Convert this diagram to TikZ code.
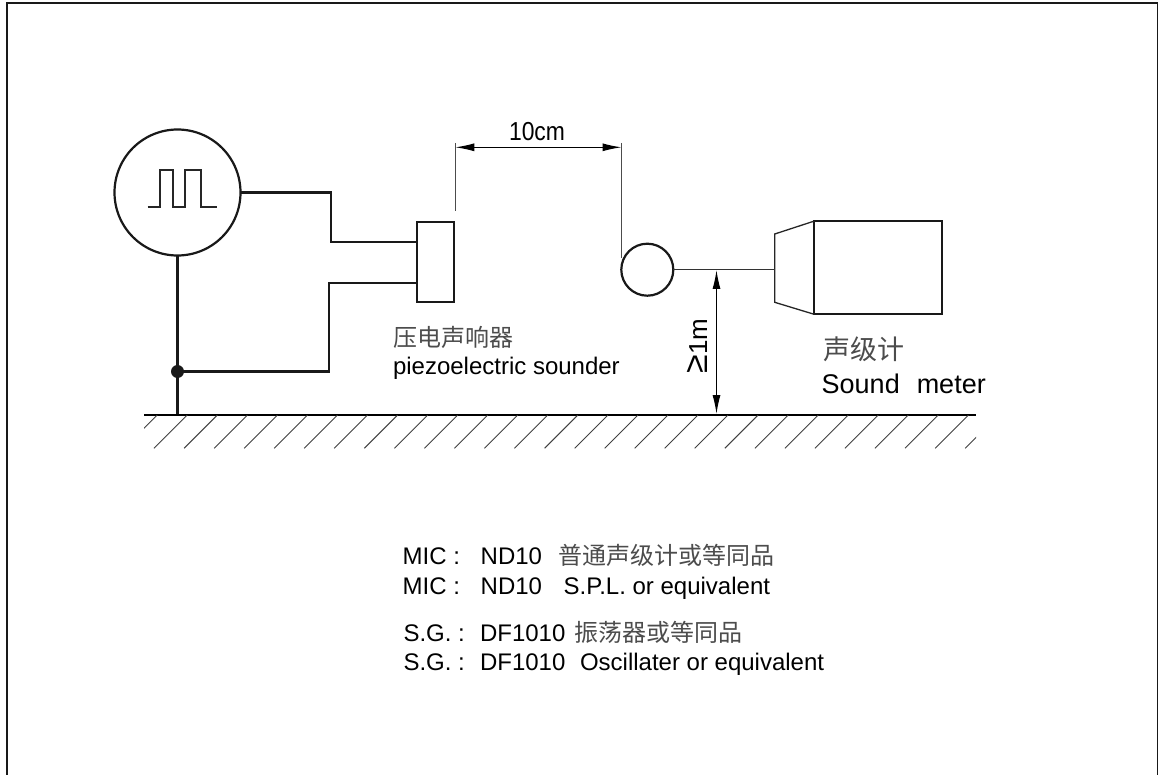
\documentclass[tikz,border=0pt]{standalone}
\usepackage{fontspec}
\usepackage{graphicx}
\setmainfont{Liberation Sans}
\newfontfamily\cjk{Noto Sans CJK SC}
\usetikzlibrary{arrows.meta}
\definecolor{cjkgray}{gray}{0.3}
\newcommand{\zh}[1]{{\cjk\color{cjkgray}#1}}
\tikzset{
  x=1pt,y=-1pt,
  wire/.style={line width=2.2pt,black!90},
  thinwire/.style={line width=1.2pt,black!80},
  shapebox/.style={draw,line width=2.2pt,black!90,inner sep=0pt,outer sep=0pt},
  dimline/.style={line width=1.2pt,black,{Latex[length=19pt,width=8pt]}-{Latex[length=19pt,width=8pt]},shorten <=0pt,shorten >=0pt},
  ext/.style={line width=1.1pt,black!70},
  hatch/.style={line width=0.9pt,black!75},
  lbl/.style={anchor=base west,inner sep=0pt,outer sep=0pt,font=\fontsize{24}{28}\selectfont},
}
\begin{document}
\begin{tikzpicture}
\useasboundingbox (0,0) rectangle (1158,775);
% frame
\draw[line width=2pt,black!90] (6.5,775) -- (6.5,3.5) -- (1158,3.5) -- (1158,775);
% generator
\node[shapebox,circle,minimum size=126pt] (sg) at (177.5,192.5) {};
\draw[line width=1.7pt,black!85] (147.7,207.3) -- (160,207.3) -- (160,170.3) -- (172.7,170.3) -- (172.7,207.3) -- (185,207.3) -- (185,170.3) -- (201,170.3) -- (201,207.3) -- (217,207.3);
% sounder
\node[shapebox,rectangle,minimum width=37pt,minimum height=80.5pt] (sounder) at (435.5,262) {};
\coordinate (s1) at (417,242);
\coordinate (s2) at (417,283);
\coordinate (b1) at (330.7,192.5);
\coordinate (b2) at (330.7,242);
\coordinate (b3) at (328.7,283);
\coordinate (b4) at (328.7,371.5);
\node[circle,fill=black!90,inner sep=0pt,minimum size=13pt] (dot) at (177.5,371.5) {};
\coordinate (g0) at (177.5,414.7);
\coordinate (gl) at (144,414.7);
\coordinate (gr) at (976,414.7);
\draw[wire] (sg.east) -- (b1) -- (b2) -- (s1);
\draw[wire] (s2) -- (b3) -- (b4) -- (dot);
\draw[wire] (sg.south) -- (g0);
% ground
\draw[line width=2pt,black] (gl) -- (gr);
\begin{scope}
\clip (144,415.5) rectangle (976,449);
\foreach \k in {0,...,28}{
  \draw[hatch] ({157.3+30.04*\k},415) -- ({157.3+30.04*\k-33.3},448.3);
}
\end{scope}
% microphone and meter
\node[shapebox,circle,minimum size=52pt] (mic) at (647.3,269.7) {};
\node[shapebox,rectangle,minimum width=127.7pt,minimum height=93.3pt] (meter) at (878.2,267.7) {};
\draw[line width=1.3pt,black!85] (meter.north west) -- (774.7,234) -- (774.7,302.3) -- (meter.south west);
\coordinate (hornin) at (774.7,269.7);
\draw[thinwire] (mic.east) -- (hornin);
% dimensions
\coordinate (e1t) at (455.3,143);
\coordinate (e1b) at (455.3,210.7);
\coordinate (e2t) at (621.5,143);
\coordinate (e2b) at (621.5,258);
\draw[ext] (e1t) -- (e1b);
\draw[ext] (e2t) -- (e2b);
\coordinate (d1) at (455.3,147.3);
\coordinate (d2) at (621.5,147.3);
\draw[dimline] (d1) -- (d2);
\node[anchor=base,inner sep=0pt,font=\fontsize{26}{28}\selectfont] (ten) at (537,141) {\scalebox{0.88}[1]{10cm}};
\coordinate (h1) at (716.5,270);
\coordinate (h2) at (716.5,414);
\draw[dimline] (h1) -- (h2);
\node[rotate=90,anchor=base,inner sep=0pt,font=\fontsize{26}{28}\selectfont] (gem) at (707,346) {\scalebox{1.3}{≥}1m};
% labels
\node[lbl] (t1) at (393,346) {\zh{\fontsize{24}{28}\selectfont 压电声响器}};
\node[lbl] (t2) at (393,374) {piezoelectric sounder};
\node[lbl] (t3) at (823,359) {\zh{\fontsize{27}{30}\selectfont 声级计}};
\node[lbl,font=\fontsize{27}{30}\selectfont] (t4) at (821.7,393.3) {Sound\hspace{17pt}meter};
\node[lbl] (n1) at (402.7,564) {\makebox[78pt][l]{MIC :}\makebox[77.3pt][l]{ND10}\zh{普通声级计或等同品}};
\node[lbl] (n2) at (402.7,594) {\makebox[78pt][l]{MIC :}\makebox[83pt][l]{ND10}S.P.L. or equivalent};
\node[lbl] (n3) at (403.5,641.7) {\makebox[76.5pt][l]{S.G. :}\makebox[94pt][l]{DF1010}\zh{振荡器或等同品}};
\node[lbl] (n4) at (403.5,670) {\makebox[76.5pt][l]{S.G. :}\makebox[100pt][l]{DF1010}Oscillater or equivalent};
\end{tikzpicture}
\end{document}
